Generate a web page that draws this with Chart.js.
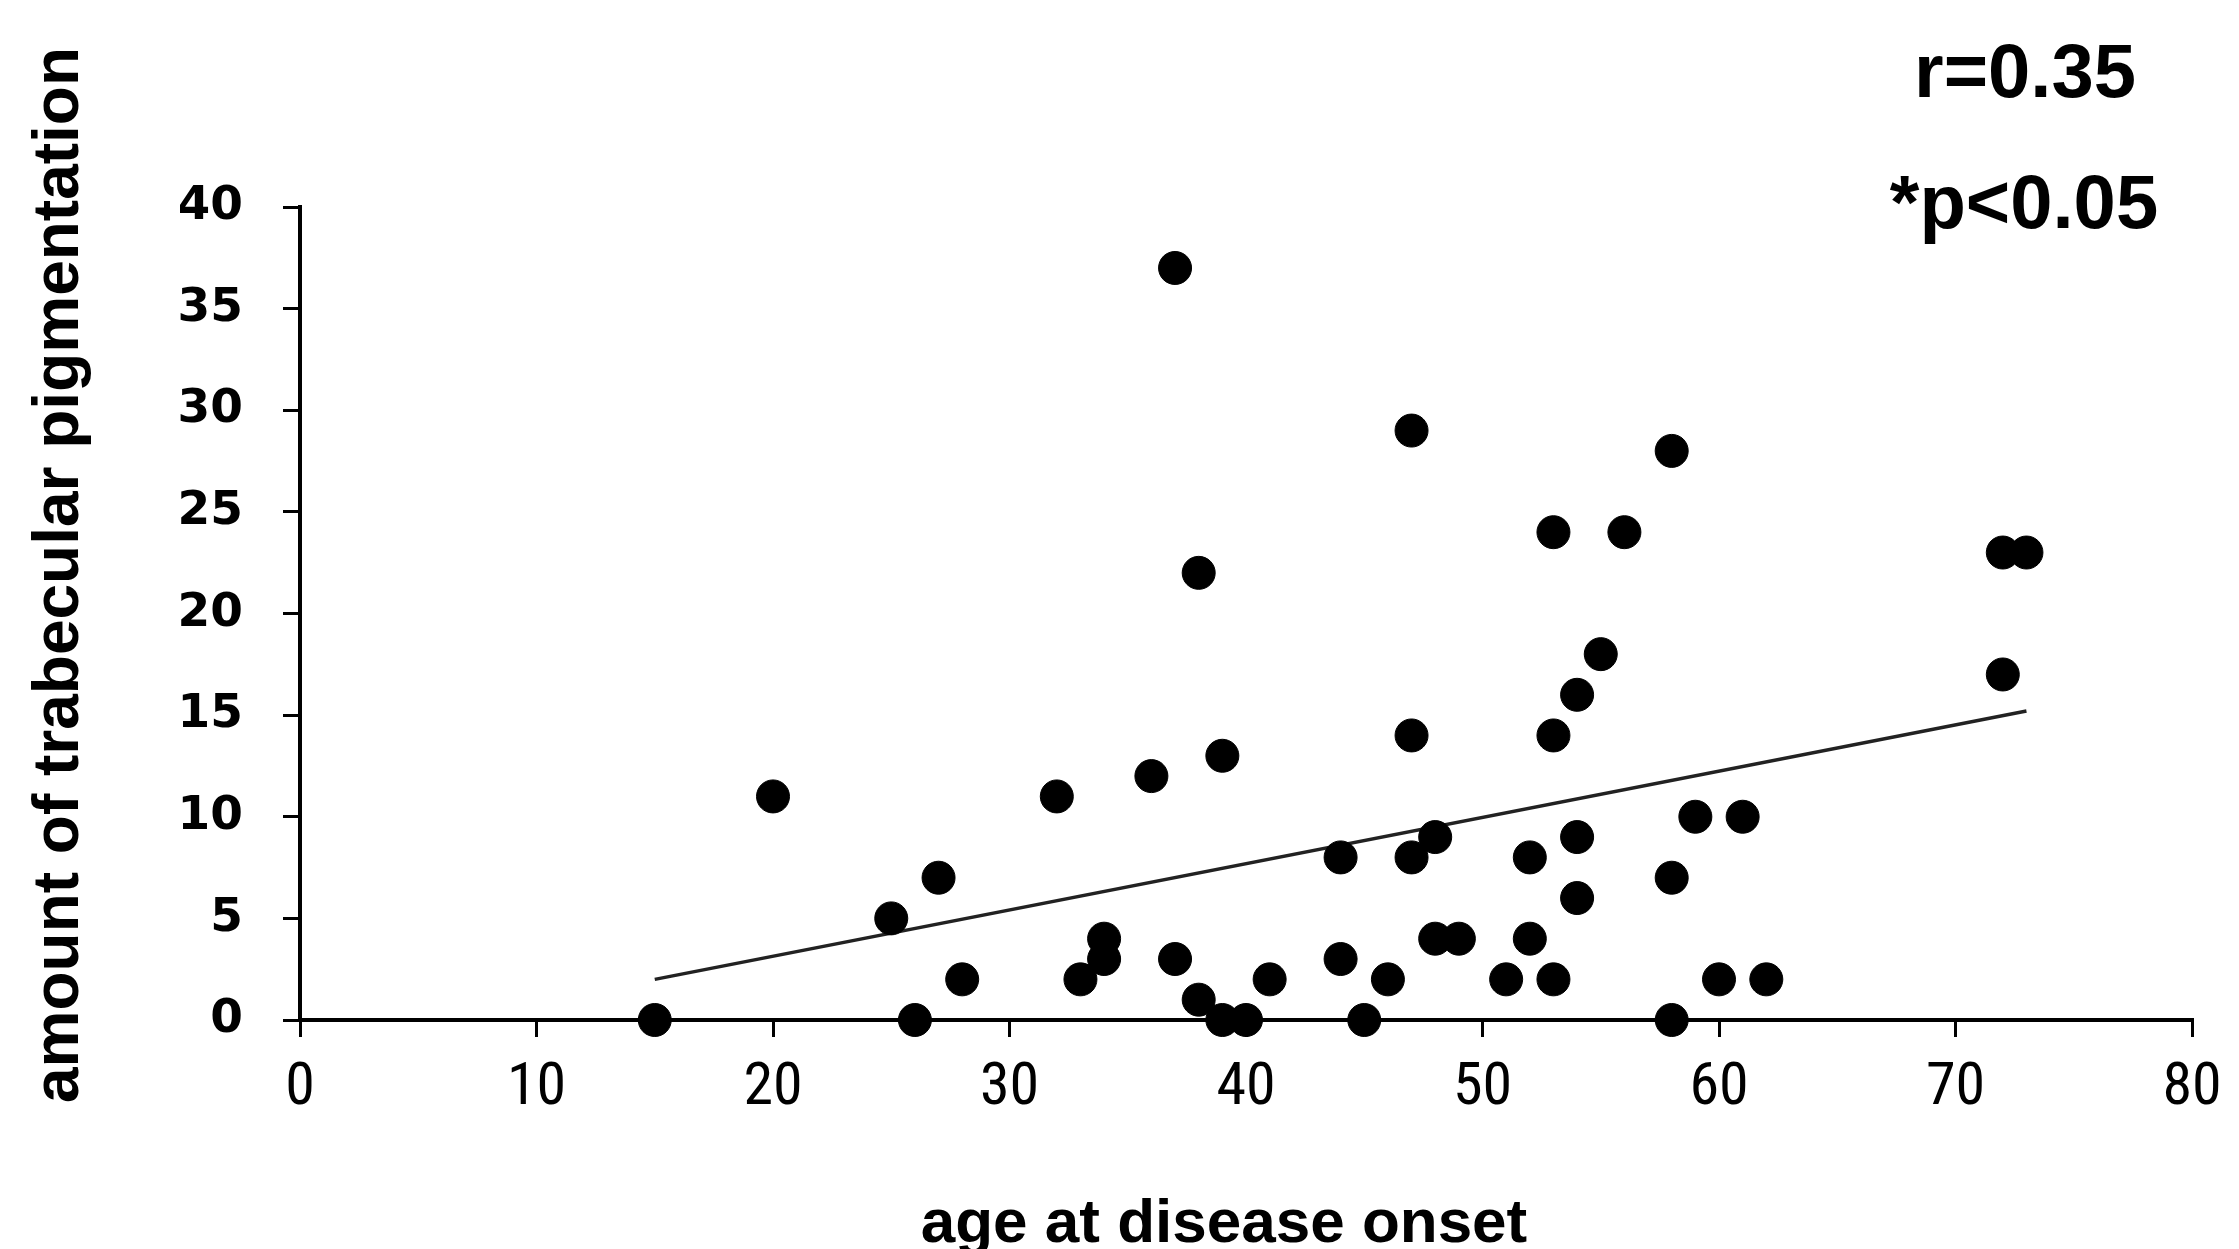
<!DOCTYPE html>
<html lang="en">
<head>
    <meta charset="UTF-8">
    <title>Trabecular pigmentation vs age at onset</title>
    <script src="https://cdn.jsdelivr.net/npm/chart.js"></script>
    <style>
        html, body { margin: 0; padding: 0; background: #fff; }
        #wrap { position: relative; width: 2239px; height: 1249px; overflow: hidden; }
    </style>
</head>
<body>
    <div id="wrap">
        <canvas id="scatter" width="2239" height="1249"></canvas>
    </div>

    <script>
        // values
        const ageAtOnset = [15, 20, 25, 26, 27, 28, 32, 33, 34, 34, 36, 37, 37, 38, 38, 39, 39, 40, 41,
                            44, 44, 45, 46, 47, 47, 47, 48, 48, 49, 51, 52, 52, 53, 53, 53, 54, 54, 54,
                            55, 56, 58, 58, 58, 59, 60, 61, 62, 72, 72, 73];
        const pigmentation = [0, 11, 5, 0, 7, 2, 11, 2, 4, 3, 12, 37, 3, 22, 1, 13, 0, 0, 2,
                              8, 3, 0, 2, 29, 14, 8, 9, 4, 4, 2, 8, 4, 24, 14, 2, 16, 9, 6,
                              18, 24, 28, 7, 0, 10, 2, 10, 2, 23, 17, 23];
        const fitX = [15, 73];
        const fitY = [2.0, 15.2];
        const xTickValues = [0, 10, 20, 30, 40, 50, 60, 70, 80];
        const yTickValues = [0, 5, 10, 15, 20, 25, 30, 35, 40];

        const points = ageAtOnset.map((a, i) => ({ x: a, y: pigmentation[i] }));
        const fitLine = fitX.map((a, i) => ({ x: a, y: fitY[i] }));

        // axis titles and the r / p note
        const textPlugin = {
            id: 'labels',
            afterDraw(chart) {
                const ctx = chart.ctx;
                ctx.save();
                ctx.fillStyle = '#000';
                ctx.textAlign = 'center';
                ctx.textBaseline = 'alphabetic';

                ctx.font = 'bold 62px "Liberation Sans", Arial, sans-serif';
                ctx.fillText('age at disease onset', 1224, 1242);

                ctx.save();
                ctx.translate(78, 575);
                ctx.rotate(-Math.PI / 2);
                ctx.font = 'bold 64px "Liberation Sans", Arial, sans-serif';
                ctx.fillText('amount of trabecular pigmentation', 0, 0);
                ctx.restore();

                ctx.font = 'bold 76px "Liberation Sans", Arial, sans-serif';
                ctx.fillText('r=0.35', 2025, 97);
                ctx.fillText('*p<0.05', 2024, 228);
                ctx.restore();
            }
        };

        new Chart(document.getElementById('scatter'), {
            type: 'scatter',
            data: {
                datasets: [
                    {
                        label: 'patients',
                        data: points,
                        backgroundColor: '#000',
                        borderColor: '#000',
                        pointRadius: 16.5,
                        pointHoverRadius: 16.5,
                        clip: false
                    },
                    {
                        label: 'fit',
                        type: 'line',
                        data: fitLine,
                        borderColor: '#222',
                        borderWidth: 3.5,
                        pointRadius: 0,
                        fill: false
                    }
                ]
            },
            options: {
                responsive: false,
                animation: false,
                devicePixelRatio: 1,
                layout: {
                    padding: { left: 180, right: 47, top: 207, bottom: 109 }
                },
                plugins: {
                    legend: { display: false },
                    tooltip: { enabled: false }
                },
                scales: {
                    x: {
                        type: 'linear',
                        min: 0,
                        max: 80,
                        afterFit: s => { s.height = 120; },
                        afterBuildTicks: s => { s.ticks = xTickValues.map(v => ({ value: v })); },
                        border: { display: true, color: '#000', width: 4 },
                        grid: { drawOnChartArea: false, drawTicks: true, tickLength: 17, color: '#000', lineWidth: 3 },
                        ticks: {
                            color: '#000',
                            padding: 16,
                            maxRotation: 0,
                            font: { family: '"Liberation Sans Narrow", "Roboto Condensed", "Liberation Sans", sans-serif', size: 60 }
                        }
                    },
                    y: {
                        type: 'linear',
                        min: 0,
                        max: 40,
                        afterFit: s => { s.width = 120; },
                        afterBuildTicks: s => { s.ticks = yTickValues.map(v => ({ value: v })); },
                        border: { display: true, color: '#000', width: 4 },
                        grid: { drawOnChartArea: false, drawTicks: true, tickLength: 17, color: '#000', lineWidth: 3 },
                        ticks: {
                            color: '#000',
                            padding: 40,
                            font: { family: '"DejaVu Sans", sans-serif', size: 47, weight: 'bold' }
                        }
                    }
                }
            },
            plugins: [textPlugin]
        });
    </script>
</body>
</html>
